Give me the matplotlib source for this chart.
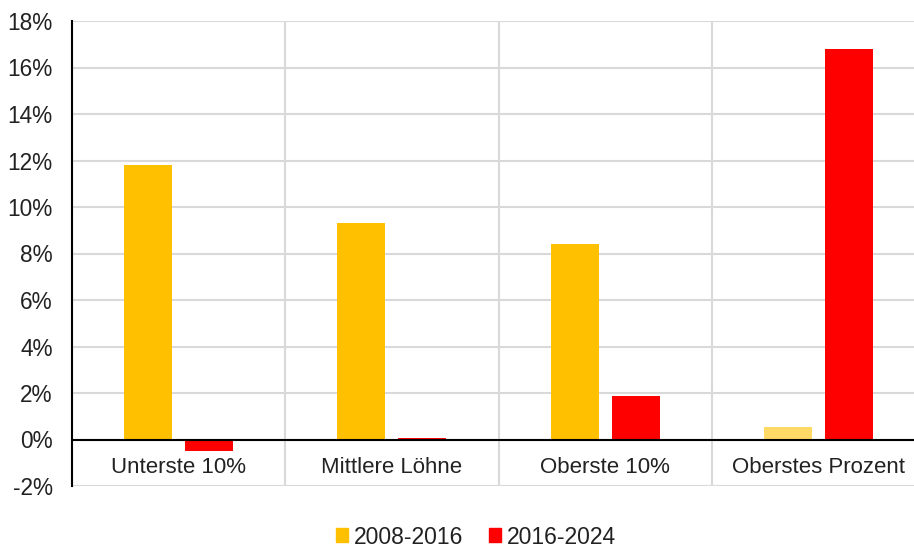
import matplotlib
matplotlib.use("Agg")
import matplotlib.pyplot as plt
from matplotlib.patches import Patch
import numpy as np

categories = ["Unterste 10%", "Mittlere Löhne", "Oberste 10%", "Oberstes Prozent"]
series_names = ["2008-2016", "2016-2024"]
values_2008_2016 = [11.8, 9.3, 8.4, 0.55]
values_2016_2024 = [-0.5, 0.08, 1.85, 16.8]
yticks = [-2, 0, 2, 4, 6, 8, 10, 12, 14, 16, 18]

yellow = "#FFC000"
light_yellow = "#FFD966"
red = "#FF0000"
grid_col = "#D9D9D9"
text_col = "#222222"

plt.rcParams['font.family'] = ['Liberation Sans', 'DejaVu Sans']

fig = plt.figure(figsize=(9.14, 5.47), dpi=100)
ax = fig.add_axes([72/914, 61/547, (925-72)/914, 465/547])

x = np.arange(len(categories))
w = 0.225
off = 0.143
cols1 = [yellow, yellow, yellow, light_yellow]
ax.bar(x - off, values_2008_2016, width=w, color=cols1, zorder=3)
ax.bar(x + off, values_2016_2024, width=w, color=red, zorder=3)

ax.set_xlim(-0.5, len(categories) - 0.5)
ax.set_ylim(-2, 18)
ax.set_yticks(yticks)
ax.set_yticklabels([f"{t}%" for t in yticks])
ax.yaxis.grid(True, color=grid_col, linewidth=1.5, zorder=0)
for b in np.arange(len(categories) + 1) - 0.5:
    ax.axvline(b, color=grid_col, linewidth=1.5, zorder=0)

ax.axhline(0, color="black", linewidth=1.5, zorder=4)
for s in ["top", "right", "bottom"]:
    ax.spines[s].set_visible(False)
ax.spines["left"].set_color("black")
ax.spines["left"].set_linewidth(1.5)
ax.spines["left"].set_zorder(5)

ax.set_xticks(x)
ax.set_xticklabels(categories)
ax.tick_params(axis="x", length=0, labelsize=16, colors=text_col)
ax.tick_params(axis="y", length=0, labelsize=16.3, colors=text_col, pad=14)
for lab in ax.get_xticklabels():
    lab.set_visible(False)
for i, c in enumerate(categories):
    ax.annotate(c, xy=(i, 0), xytext=(0, -28), textcoords="offset pixels",
                ha="center", va="center", fontsize=16, color=text_col)

handles = [Patch(color=yellow), Patch(color=red)]
fig.legend(handles, series_names, loc="center", bbox_to_anchor=(476/914, 1 - 537/547),
           ncol=2, frameon=False, fontsize=16.5, handlelength=0.55, handleheight=0.55,
           handletextpad=0.25, columnspacing=1.1, labelcolor=text_col)

fig.savefig("out.png", dpi=100)
